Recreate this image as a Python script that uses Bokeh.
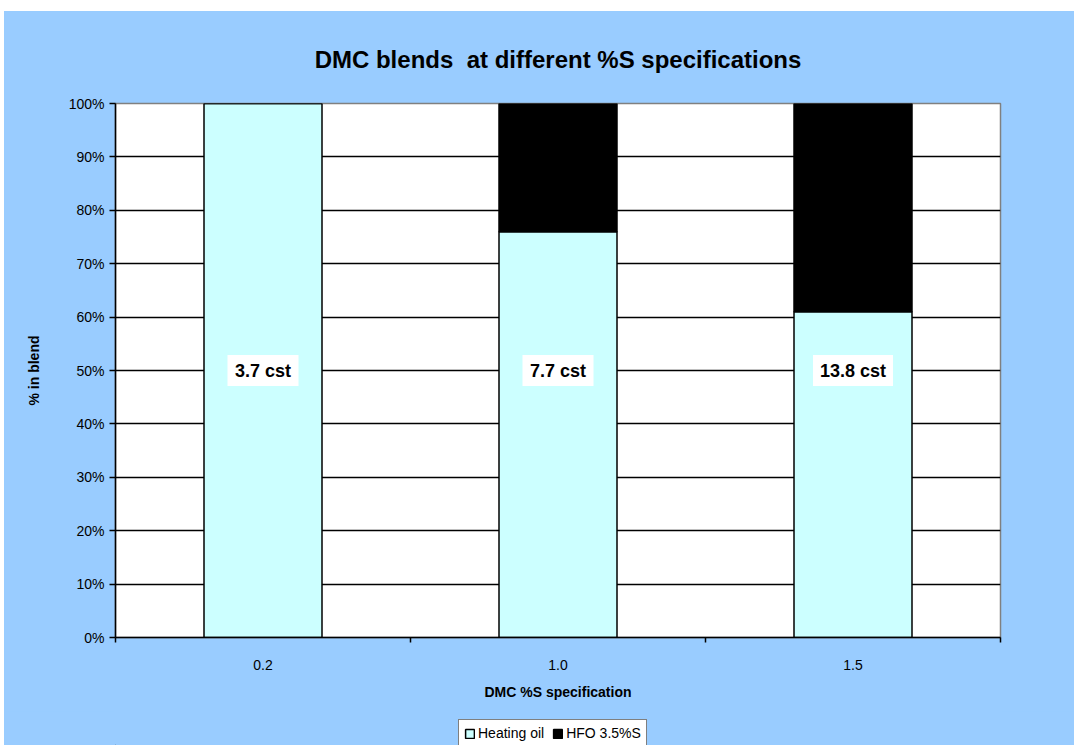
from bokeh.plotting import figure
from bokeh.layouts import column
from bokeh.models import (Range1d, FixedTicker, NumeralTickFormatter, Legend,
                          LegendItem, ColumnDataSource)
from bokeh.core.properties import value
from bokeh.embed import file_html
from bokeh.resources import INLINE

# ---- data ----
categories = ["0.2", "1.0", "1.5"]
heating_oil = [1.00, 0.76, 0.61]
hfo = [0.00, 0.24, 0.39]
series_names = ["Heating oil", "HFO 3.5%S"]
viscosity_labels = ["3.7 cst", "7.7 cst", "13.8 cst"]
label_level = [0.5, 0.5, 0.5]
y_ticks = [0.0, 0.1, 0.2, 0.3, 0.4, 0.5, 0.6, 0.7, 0.8, 0.9, 1.0]

FONT = "Liberation Sans"
BG = "#99CCFF"
CYAN = "#CCFFFF"
COLORS = [CYAN, "black"]

xpos = [i + 0.5 for i in range(len(categories))]
src = ColumnDataSource(dict(x=xpos, heating_oil=heating_oil, hfo=hfo,
                            lab=viscosity_labels, ly=label_level,
                            bw=[8 + 9 * len(t) for t in viscosity_labels]))

p = figure(width=1070, height=700, margin=0,
           x_range=Range1d(0, len(categories)), y_range=Range1d(0, 1),
           output_backend="svg", toolbar_location=None,
           min_border_left=111, min_border_right=74,
           min_border_top=92, min_border_bottom=74,
           background_fill_color="white", border_fill_color=BG,
           title="DMC blends\u00a0 at different %S specifications")

p.title.align = "center"
p.title.text_font = FONT
p.title.text_font_size = "24px"
p.title.text_font_style = "bold"
p.title.text_color = "black"
p.title.standoff = 62

p.outline_line_color = "#808080"
p.outline_line_width = 1.5

p.vbar_stack(["heating_oil", "hfo"], x="x", width=0.4, source=src,
             fill_color=COLORS, line_color="black", line_width=1.5)

# value labels with white boxes
p.rect(x="x", y="ly", width="bw", height=31, width_units="screen",
       height_units="screen", source=src, fill_color="white", line_color=None)
p.text(x="x", y="ly", text="lab", source=src, text_align="center",
       text_baseline="middle", text_font=value(FONT), text_font_size="18px",
       text_font_style="bold", text_color="black")

# y axis
p.yaxis.ticker = FixedTicker(ticks=y_ticks)
p.yaxis.formatter = NumeralTickFormatter(format="0%")
p.yaxis.axis_label = "% in blend"
p.yaxis.axis_label_text_font = FONT
p.yaxis.axis_label_text_font_size = "14px"
p.yaxis.axis_label_text_font_style = "bold"
p.yaxis.axis_label_text_color = "black"
p.yaxis.axis_label_standoff = 24
p.yaxis.major_label_text_font = FONT
p.yaxis.major_label_text_font_size = "14px"
p.yaxis.major_label_text_color = "black"
p.yaxis.major_label_standoff = 5
p.yaxis.major_tick_out = 6
p.yaxis.major_tick_in = 0
p.yaxis.minor_tick_out = 0
p.yaxis.minor_tick_in = 0
p.yaxis.axis_line_color = "black"
p.yaxis.axis_line_width = 1.5
p.yaxis.major_tick_line_width = 1.5

# x axis: labels at category centres, tick marks at boundaries
p.xaxis.ticker = FixedTicker(ticks=xpos,
                             minor_ticks=list(range(len(categories) + 1)))
p.xaxis.major_label_overrides = {xv: c for xv, c in zip(xpos, categories)}
p.xaxis.axis_label = "DMC %S specification"
p.xaxis.axis_label_text_font = FONT
p.xaxis.axis_label_text_font_size = "14px"
p.xaxis.axis_label_text_font_style = "bold"
p.xaxis.axis_label_text_color = "black"
p.xaxis.axis_label_standoff = 11
p.xaxis.major_label_text_font = FONT
p.xaxis.major_label_text_font_size = "14px"
p.xaxis.major_label_text_color = "black"
p.xaxis.major_label_standoff = 17
p.xaxis.major_tick_out = 0
p.xaxis.major_tick_in = 0
p.xaxis.minor_tick_out = 5
p.xaxis.minor_tick_in = 0
p.xaxis.minor_tick_line_width = 1.5
p.xaxis.axis_line_color = "black"
p.xaxis.axis_line_width = 1.5

p.xgrid.visible = False
p.ygrid.grid_line_color = "black"
p.ygrid.grid_line_width = 1.5

# ---- legend strip below the chart ----
lg = figure(width=1070, height=34, margin=0, output_backend="svg",
            toolbar_location=None, min_border=0,
            min_border_left=111, min_border_right=74,
            x_range=Range1d(0, 1), y_range=Range1d(0, 1),
            background_fill_color=BG, border_fill_color=BG)
lg.axis.visible = False
lg.grid.visible = False
lg.outline_line_color = BG
lg.outline_line_width = 3
items = []
for name, col in zip(series_names, COLORS):
    swatch = ColumnDataSource(dict(x=[-5], top=[0]))  # off-canvas legend swatch
    r = lg.vbar(x="x", top="top", width=0.1, source=swatch, fill_color=col,
                line_color="black", line_width=1.5)
    items.append(LegendItem(label=name, renderers=[r]))

legend = Legend(items=items, orientation="horizontal", location=(343, -2))
legend.label_text_font = FONT
legend.label_text_font_size = "14px"
legend.label_text_color = "black"
legend.glyph_width = 11
legend.glyph_height = 11
legend.label_standoff = 3
legend.spacing = 8
legend.padding = 5
legend.margin = 0
legend.border_line_color = "black"
legend.border_line_width = 1.5
legend.background_fill_color = "white"
legend.background_fill_alpha = 1
lg.add_layout(legend, "center")

layout = column(p, lg, spacing=0, margin=(11, 0, 0, 4),
                styles={"background-color": BG})
open("out.html", "w").write(file_html(layout, INLINE))
